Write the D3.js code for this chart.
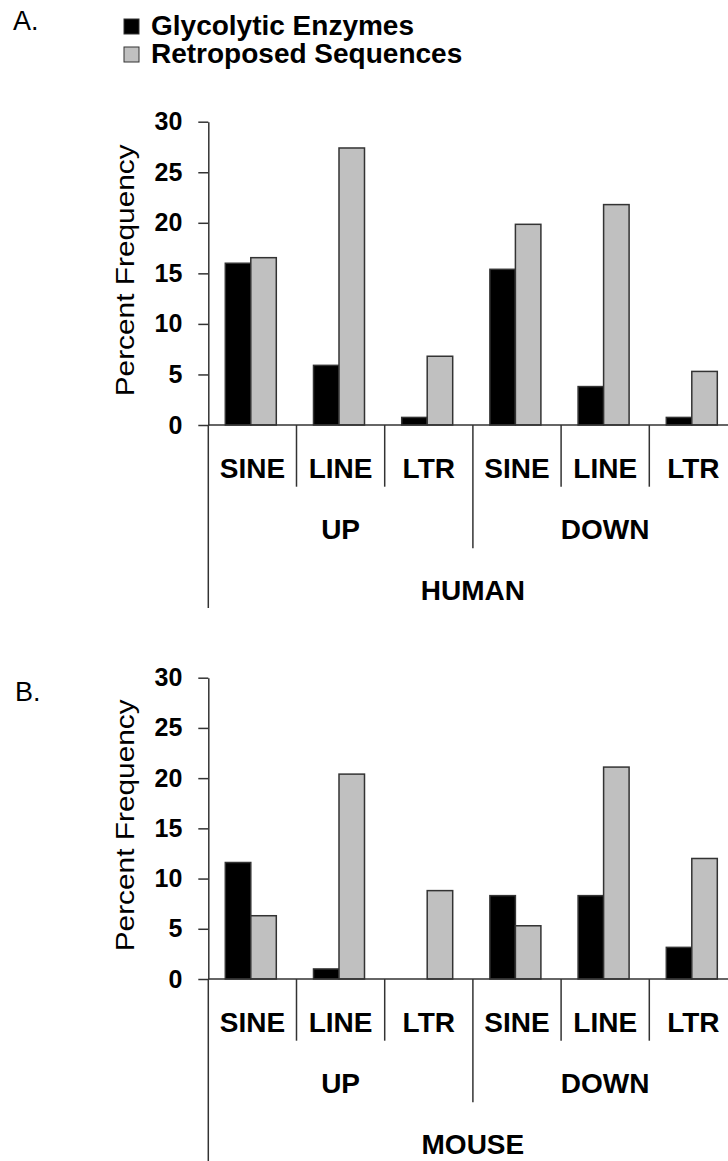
<!DOCTYPE html>
<html>
<head>
<meta charset="utf-8">
<script src="https://cdn.jsdelivr.net/npm/d3@7"></script>
<style>
  body { margin: 0; background: #fff; }
  text { font-family: "Liberation Sans", Arial, sans-serif; }
</style>
</head>
<body>
<svg id="graph"></svg>
<script>
/* data */
var series = ["Glycolytic Enzymes", "Retroposed Sequences"];
var elements = ["SINE", "LINE", "LTR"];
var regulation = ["UP", "DOWN"];
var yTicks = [0, 5, 10, 15, 20, 25, 30];

var humanGlyco = [16.0, 5.9, 0.75, 15.4, 3.8, 0.75];
var humanRetro = [16.55, 27.4, 6.8, 19.85, 21.8, 5.3];
var mouseGlyco = [11.6, 1.0, 0, 8.3, 8.3, 3.15];
var mouseRetro = [6.3, 20.4, 8.8, 5.3, 21.1, 12.0];

var colors = ["#000000", "#c0c0c0"];

var svg = d3.select("#graph")
    .attr("width", 728)
    .attr("height", 1161);

var axisLeft = 208.3,
    step = 88.2;

// one band per (regulation, element) pair
var cats = [];
regulation.forEach(function(r) {
  elements.forEach(function(e) { cats.push(r + "|" + e); });
});

var x0 = d3.scaleBand().domain(cats).range([axisLeft, axisLeft + step * cats.length]);
var x1 = d3.scaleBand().domain(series).range([17, 68]);
var xr = d3.scaleBand().domain(regulation).range([axisLeft, axisLeft + step * cats.length]);

/* legend */
var legend = svg.append("g");
series.forEach(function(s, i) {
  legend.append("rect")
      .attr("x", 124).attr("y", 19 + i * 28)
      .attr("width", 15).attr("height", 15)
      .attr("fill", colors[i])
      .attr("stroke", "#333").attr("stroke-width", 1);
  legend.append("text")
      .attr("x", 151).attr("y", 35 + i * 28)
      .attr("font-size", 28).attr("font-weight", "bold")
      .text(s);
});

function panel(opts) {
  var y = d3.scaleLinear().domain([0, 30]).range([opts.bottom, opts.top]);
  var g = svg.append("g");
  var base = y(0);

  g.append("text")
      .attr("x", opts.letterX).attr("y", opts.letterY)
      .attr("font-size", 27)
      .text(opts.letter);

  var yaxis = g.append("g")
      .attr("transform", "translate(" + axisLeft + ",0)")
      .call(d3.axisLeft(y).tickValues(yTicks).tickSize(10).tickSizeOuter(0).tickPadding(16));
  yaxis.select(".domain").attr("stroke", "#333").attr("stroke-width", 1.5);
  yaxis.selectAll(".tick line").attr("stroke", "#333").attr("stroke-width", 1.5);
  yaxis.selectAll(".tick text")
      .attr("font-size", 25).attr("font-weight", "bold")
      .attr("fill", "#000").attr("font-family", "Liberation Sans, Arial, sans-serif");

  g.append("text")
      .attr("transform", "translate(134," + ((opts.top + opts.bottom) / 2 - 3) + ") rotate(-90)")
      .attr("text-anchor", "middle")
      .attr("font-size", 25)
      .attr("textLength", 252).attr("lengthAdjust", "spacingAndGlyphs")
      .text("Percent Frequency");

  // bars
  var rows = cats.map(function(c, i) {
    return [{ cat: c, s: series[0], v: opts.glyco[i] }, { cat: c, s: series[1], v: opts.retro[i] }];
  });
  g.selectAll(".grp")
    .data(rows)
    .enter().append("g")
      .attr("transform", function(d) { return "translate(" + x0(d[0].cat) + ",0)"; })
    .selectAll("rect")
    .data(function(d) { return d.filter(function(b) { return b.v > 0; }); })
    .enter().append("rect")
      .attr("x", function(d) { return x1(d.s); })
      .attr("y", function(d) { return y(d.v); })
      .attr("width", x1.bandwidth())
      .attr("height", function(d) { return base - y(d.v); })
      .attr("fill", function(d) { return colors[series.indexOf(d.s)]; })
      .attr("stroke", "#333").attr("stroke-width", 1.5);

  // category axis line
  g.append("line")
      .attr("x1", axisLeft).attr("x2", 728)
      .attr("y1", base).attr("y2", base)
      .attr("stroke", "#333").attr("stroke-width", 1.5);

  // y axis continues down through the label tiers
  g.append("line")
      .attr("x1", axisLeft).attr("x2", axisLeft)
      .attr("y1", base).attr("y2", base + 183)
      .attr("stroke", "#333").attr("stroke-width", 1.5);

  // separators between elements
  g.selectAll(".sep")
    .data(cats.slice(1))
    .enter().append("line")
      .attr("x1", function(d) { return x0(d); })
      .attr("x2", function(d) { return x0(d); })
      .attr("y1", base)
      .attr("y2", function(d) { return d.split("|")[1] === elements[0] ? base + 123.3 : base + 61.7; })
      .attr("stroke", "#333").attr("stroke-width", 1.5);

  g.selectAll(".elab")
    .data(cats)
    .enter().append("text")
      .attr("x", function(d) { return x0(d) + x0.bandwidth() / 2; })
      .attr("y", base + 52.5)
      .attr("text-anchor", "middle")
      .attr("font-size", 28).attr("font-weight", "bold")
      .text(function(d) { return d.split("|")[1]; });

  g.selectAll(".rlab")
    .data(regulation)
    .enter().append("text")
      .attr("x", function(d) { return xr(d) + xr.bandwidth() / 2; })
      .attr("y", base + 114)
      .attr("text-anchor", "middle")
      .attr("font-size", 28).attr("font-weight", "bold")
      .text(function(d) { return d; });

  g.append("text")
      .attr("x", (x0.range()[0] + x0.range()[1]) / 2)
      .attr("y", base + 175)
      .attr("text-anchor", "middle")
      .attr("font-size", 28).attr("font-weight", "bold")
      .text(opts.species);
}

panel({ top: 121.7, bottom: 425, glyco: humanGlyco, retro: humanRetro,
        species: "HUMAN", letter: "A.", letterX: 13, letterY: 30 });
panel({ top: 677.7, bottom: 979, glyco: mouseGlyco, retro: mouseRetro,
        species: "MOUSE", letter: "B.", letterX: 15, letterY: 701 });
</script>
</body>
</html>
